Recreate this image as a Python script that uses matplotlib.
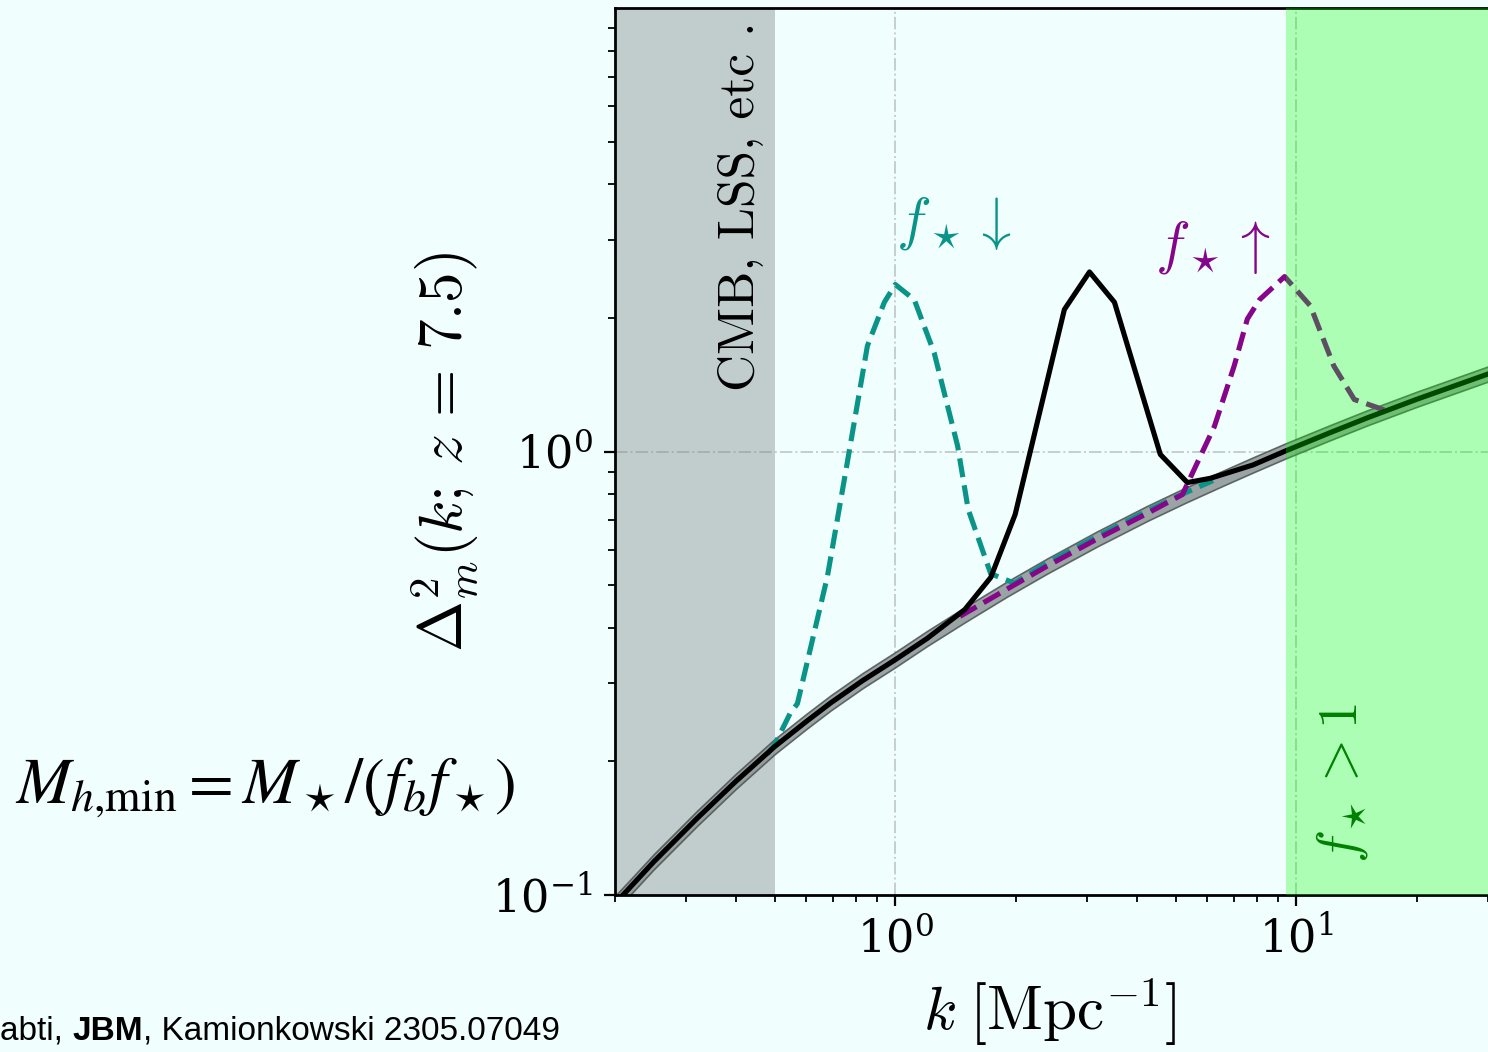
import numpy as np
import matplotlib
matplotlib.use("Agg")
import matplotlib.pyplot as plt
from matplotlib.ticker import LogLocator, NullFormatter

plt.rcParams['mathtext.fontset'] = 'cm'
plt.rcParams['font.family'] = ['DejaVu Serif']
plt.rcParams['axes.unicode_minus'] = False

# baseline spectrum (band)
base_k = [0.2, 0.215, 0.25, 0.32, 0.4, 0.5, 0.6, 0.69, 0.83, 1.0, 1.2, 1.49, 1.9, 2.39,
          3.2, 4.25, 5.3, 6.5, 7.8, 9.4, 12, 15, 20, 29.6, 40, 50]
base_v = [0.0957, 0.1026, 0.1189, 0.1487, 0.1803, 0.216, 0.2462, 0.2711, 0.3046, 0.3393,
          0.3787, 0.4283, 0.4896, 0.5515, 0.6364, 0.7252, 0.7974, 0.867, 0.9326, 1.003,
          1.098, 1.19, 1.312, 1.488, 1.633, 1.746]

# fiducial curve with bump (black solid)
fid_k = [0.2, 0.215, 0.25, 0.32, 0.4, 0.5, 0.6, 0.69, 0.83, 1.0, 1.2, 1.49, 1.73, 1.99,
         2.64, 3.05, 3.52, 4.58, 5.35, 6.1, 7.8, 9.4, 12, 15, 20, 29.6, 40, 50]
fid_v = [0.0957, 0.1026, 0.1189, 0.1487, 0.1803, 0.216, 0.2462, 0.2711, 0.3046, 0.3393,
         0.3787, 0.44, 0.52, 0.721, 2.09, 2.54, 2.17, 0.985, 0.851, 0.87, 0.9326, 1.003,
         1.098, 1.19, 1.312, 1.488, 1.633, 1.746]

# f_star lower (teal dashed)
low_k = [0.48, 0.5, 0.547, 0.57, 0.677, 0.759, 0.852, 0.939, 1.0, 1.115, 1.25, 1.43, 1.52,
         1.73, 1.98, 2.39, 3.2, 4.25, 5.3, 6.2]
low_v = [0.208, 0.218, 0.257, 0.27, 0.522, 0.944, 1.73, 2.17, 2.38, 2.20, 1.67, 1.03, 0.74,
         0.53, 0.505, 0.56, 0.645, 0.735, 0.808, 0.86]

# f_star higher (purple dashed)
high_k = [1.45, 1.9, 2.39, 3.2, 4.25, 5.2, 6.25, 7.0, 7.55, 8.1, 9.35, 10.84, 12.4, 13.95,
          16.6]
high_v = [0.425, 0.4896, 0.5515, 0.6364, 0.7252, 0.80, 1.14, 1.56, 1.99, 2.2, 2.48, 2.13,
          1.56, 1.31, 1.24]

k_cmb = 0.5      # large scale probes limit
k_fstar = 9.4    # f_star > 1 region
band_w = 0.04

bg = '#f1fefe'
teal = '#0a9488'
purple = '#85068a'

fig = plt.figure(figsize=(14.88, 10.52), dpi=100, facecolor=bg)
# axes runs off the right edge of the picture like the slide crop
ax = fig.add_axes([615 / 1488, 157 / 1052, 961.6 / 1488, 887 / 1052])
ax.set_facecolor(bg)
ax.set_xscale('log')
ax.set_yscale('log')
ax.set_xlim(0.2, 50)
ax.set_ylim(0.1, 10)

ax.axvline(1, color='#c5cdcd', ls='-.', lw=1.4, zorder=0.5)
ax.axvline(10, color='#c5cdcd', ls='-.', lw=1.4, zorder=0.5)
ax.axhline(1, color='#c5cdcd', ls='-.', lw=1.4, zorder=0.5)

ax.axvspan(0.2, k_cmb, color='#808a8a', alpha=0.42, lw=0, zorder=1)

bk = np.array(base_k)
bv = np.array(base_v)
ax.fill_between(bk, bv / (1 + band_w), bv * (1 + band_w), facecolor='#8c9494',
                edgecolor='#4c5252', lw=1.2, alpha=0.85, zorder=2)

ax.plot(low_k, low_v, color=teal, ls='--', lw=3.7, zorder=3)
ax.plot(high_k, high_v, color=purple, ls='--', lw=3.7, zorder=4)
ax.plot(fid_k, fid_v, color='black', lw=3.7, zorder=5)

ax.axvspan(k_fstar, 50, color='#00ff00', alpha=0.29, lw=0, zorder=6)

ax.text(0.41, 3.57, 'CMB, LSS, etc .', rotation=90, fontsize=37, family='cmr10',
        ha='center', va='center', color='black', zorder=7)
ax.text(1.40, 3.27, r'$f_\star{\downarrow}$', fontsize=42, color=teal,
        ha='center', va='center', zorder=7)
ax.text(6.2, 2.89, r'$f_\star{\uparrow}$', fontsize=42, color=purple,
        ha='center', va='center', zorder=7)
ax.text(13.0, 0.179, r'$f_\star > 1$', rotation=90, fontsize=40, color='green',
        ha='center', va='center', zorder=7)

ax.set_xticks([1, 10])
ax.set_yticks([0.1, 1])
ax.xaxis.set_minor_locator(LogLocator(base=10, subs=np.arange(2, 10)))
ax.yaxis.set_minor_locator(LogLocator(base=10, subs=np.arange(2, 10)))
ax.xaxis.set_minor_formatter(NullFormatter())
ax.yaxis.set_minor_formatter(NullFormatter())
ax.tick_params(which='major', direction='out', length=8, width=1.6, labelsize=32, pad=8)
ax.tick_params(which='minor', direction='out', length=5, width=1.3)
for s in ax.spines.values():
    s.set_linewidth(2.0)

fig.text(445 / 1488, 1 - 452 / 1052, r'$\Delta_m^2(k;\, z\,=\,7.5)$', rotation=90,
         fontsize=44, ha='center', va='center')
fig.text(1050 / 1488, 1 - 1012 / 1052, r'$k\;[\mathrm{Mpc}^{-1}]$', fontsize=44,
         ha='center', va='center')

fig.text(15 / 1488, 1 - 788 / 1052, r'$M_{h{,}\mathrm{min}} = M_\star/(f_b f_\star)$',
         fontsize=47, ha='left', va='center', math_fontfamily='stix')

t1 = fig.text(0.0, 1 - 1040 / 1052, 'abti, ', fontsize=24, family='Liberation Sans',
              ha='left', va='baseline')
t2 = ax.annotate('JBM', xy=(1, 0), xycoords=t1, fontsize=24, family='Liberation Sans',
                 fontweight='bold', ha='left', va='bottom', annotation_clip=False)
ax.annotate(', Kamionkowski 2305.07049', xy=(1, 0), xycoords=t2, fontsize=24,
            family='Liberation Sans', ha='left', va='bottom', annotation_clip=False)

fig.savefig('out.png', dpi=100, facecolor=bg)
